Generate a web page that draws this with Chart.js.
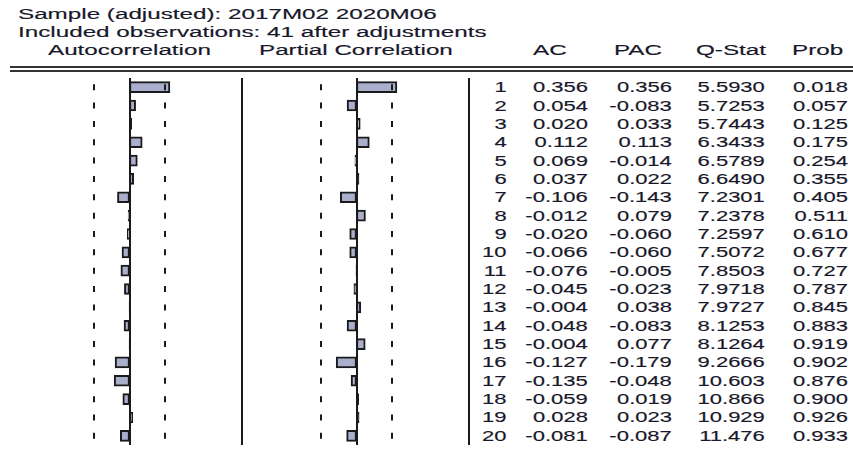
<!DOCTYPE html>
<html>
<head>
<meta charset="utf-8">
<script src="https://cdn.jsdelivr.net/npm/chart.js@4.4.1/dist/chart.umd.min.js"></script>
<style>
  body { margin: 0; width: 853px; height: 452px; background: #fff; position: relative; overflow: hidden;
         font-family: "Liberation Sans", Arial, sans-serif; color: #18182a; }
  .t { position: absolute; white-space: nowrap; font-size: 14px; line-height: 18px;
       -webkit-text-stroke: 0.15px #18182a; }
  .hl { position: absolute; left: 10px; right: 0; height: 2px; background: #333; }
  canvas { position: absolute; }
</style>
</head>
<body>
<div class="hl" style="top:66px"></div>
<div class="hl" style="top:70px"></div>
<canvas id="acf" width="227" height="368" style="left:16px;top:77px"></canvas>
<canvas id="pacf" width="227" height="368" style="left:243px;top:77px"></canvas>
<div id="text"></div>
<script>
const sampleLine = 'Sample (adjusted): 2017M02 2020M06';
const obsLine = 'Included observations: 41 after adjustments';
const nobs = 41;
const lags = [1, 2, 3, 4, 5, 6, 7, 8, 9, 10, 11, 12, 13, 14, 15, 16, 17, 18, 19, 20];
const ac = [0.356, 0.054, 0.020, 0.112, 0.069, 0.037, -0.106, -0.012, -0.020, -0.066,
            -0.076, -0.045, -0.004, -0.048, -0.004, -0.127, -0.135, -0.059, 0.028, -0.081];
const pac = [0.356, -0.083, 0.033, 0.113, -0.014, 0.022, -0.143, 0.079, -0.060, -0.060,
             -0.005, -0.023, 0.038, -0.083, 0.077, -0.179, -0.048, 0.019, 0.023, -0.087];
const qstat = [5.5930, 5.7253, 5.7443, 6.3433, 6.5789, 6.6490, 7.2301, 7.2378, 7.2597, 7.5072,
               7.8503, 7.9718, 7.9727, 8.1253, 8.1264, 9.2666, 10.603, 10.866, 10.929, 11.476];
const prob = [0.018, 0.057, 0.125, 0.175, 0.254, 0.355, 0.405, 0.511, 0.610, 0.677,
              0.727, 0.787, 0.845, 0.883, 0.919, 0.902, 0.876, 0.900, 0.926, 0.933];

const band = 2 / Math.sqrt(nobs);
const $text = document.querySelector('#text');

function put(str, x, y, align, scale) {
  const d = document.createElement('div');
  d.className = 't';
  d.textContent = str;
  d.style.top = (y - 9) + 'px';
  if (align === 'right') {
    d.style.right = (853 - x) + 'px';
    d.style.transformOrigin = 'right center';
  } else {
    d.style.left = x + 'px';
    d.style.transformOrigin = 'left center';
  }
  d.style.transform = `scaleX(${scale})`;
  $text.appendChild(d);
}

// panel lines: zero line, +-2/sqrt(n) dashes, right separator
const bandLines = {
  id: 'bandLines',
  afterDatasetsDraw(chart) {
    const { ctx, chartArea, scales: { x, y } } = chart;
    ctx.save();
    ctx.strokeStyle = '#1a1a1a';
    ctx.lineWidth = 2;
    const x0 = Math.round(x.getPixelForValue(0));
    ctx.beginPath();
    ctx.moveTo(x0, chartArea.top);
    ctx.lineTo(x0, chartArea.bottom);
    ctx.moveTo(chartArea.right - 1, chartArea.top);
    ctx.lineTo(chartArea.right - 1, chartArea.bottom);
    lags.forEach((lag, i) => {
      const yc = y.getPixelForValue(i);
      [-band, band].forEach((b) => {
        const xb = Math.round(x.getPixelForValue(b));
        ctx.moveTo(xb, yc - 3);
        ctx.lineTo(xb, yc + 3);
      });
    });
    ctx.stroke();
    ctx.restore();
  }
};

function makePanel(id, values) {
  return new Chart(document.getElementById(id), {
    type: 'bar',
    data: {
      labels: lags,
      datasets: [{
        data: values,
        backgroundColor: '#a9afcc',
        borderColor: '#1a1a1a',
        borderWidth: 2,
        borderSkipped: false,
        barThickness: 11
      }]
    },
    options: {
      indexAxis: 'y',
      responsive: false,
      animation: false,
      events: [],
      layout: { padding: { top: 1, bottom: 0 } },
      plugins: { legend: { display: false }, tooltip: { enabled: false } },
      scales: {
        x: { min: -1, max: 1, display: false },
        y: { display: false }
      }
    },
    plugins: [bandLines]
  });
}

makePanel('acf', ac);
const pchart = makePanel('pacf', pac);

// titles and headers
const ts = 1.73;
put(sampleLine, 18, 14, 'left', ts);
put(obsLine, 18, 32, 'left', ts);
put('Autocorrelation', 48, 50, 'left', ts);
put('Partial Correlation', 259, 50, 'left', ts);
put('AC', 533, 50, 'left', ts);
put('PAC', 614, 50, 'left', ts);
put('Q-Stat', 696, 50, 'left', ts);
put('Prob', 792, 50, 'left', ts);

// table rows aligned with the chart rows
const panelTop = 77;
const vs = 1.57;
lags.forEach((lag, i) => {
  const yc = panelTop + pchart.scales.y.getPixelForValue(i);
  put(String(lag), 507, yc, 'right', vs);
  put(ac[i].toFixed(3), 588, yc, 'right', vs);
  put(pac[i].toFixed(3), 672, yc, 'right', vs);
  put(qstat[i].toPrecision(5), 765, yc, 'right', vs);
  put(prob[i].toFixed(3), 848, yc, 'right', vs);
});
</script>
</body>
</html>
